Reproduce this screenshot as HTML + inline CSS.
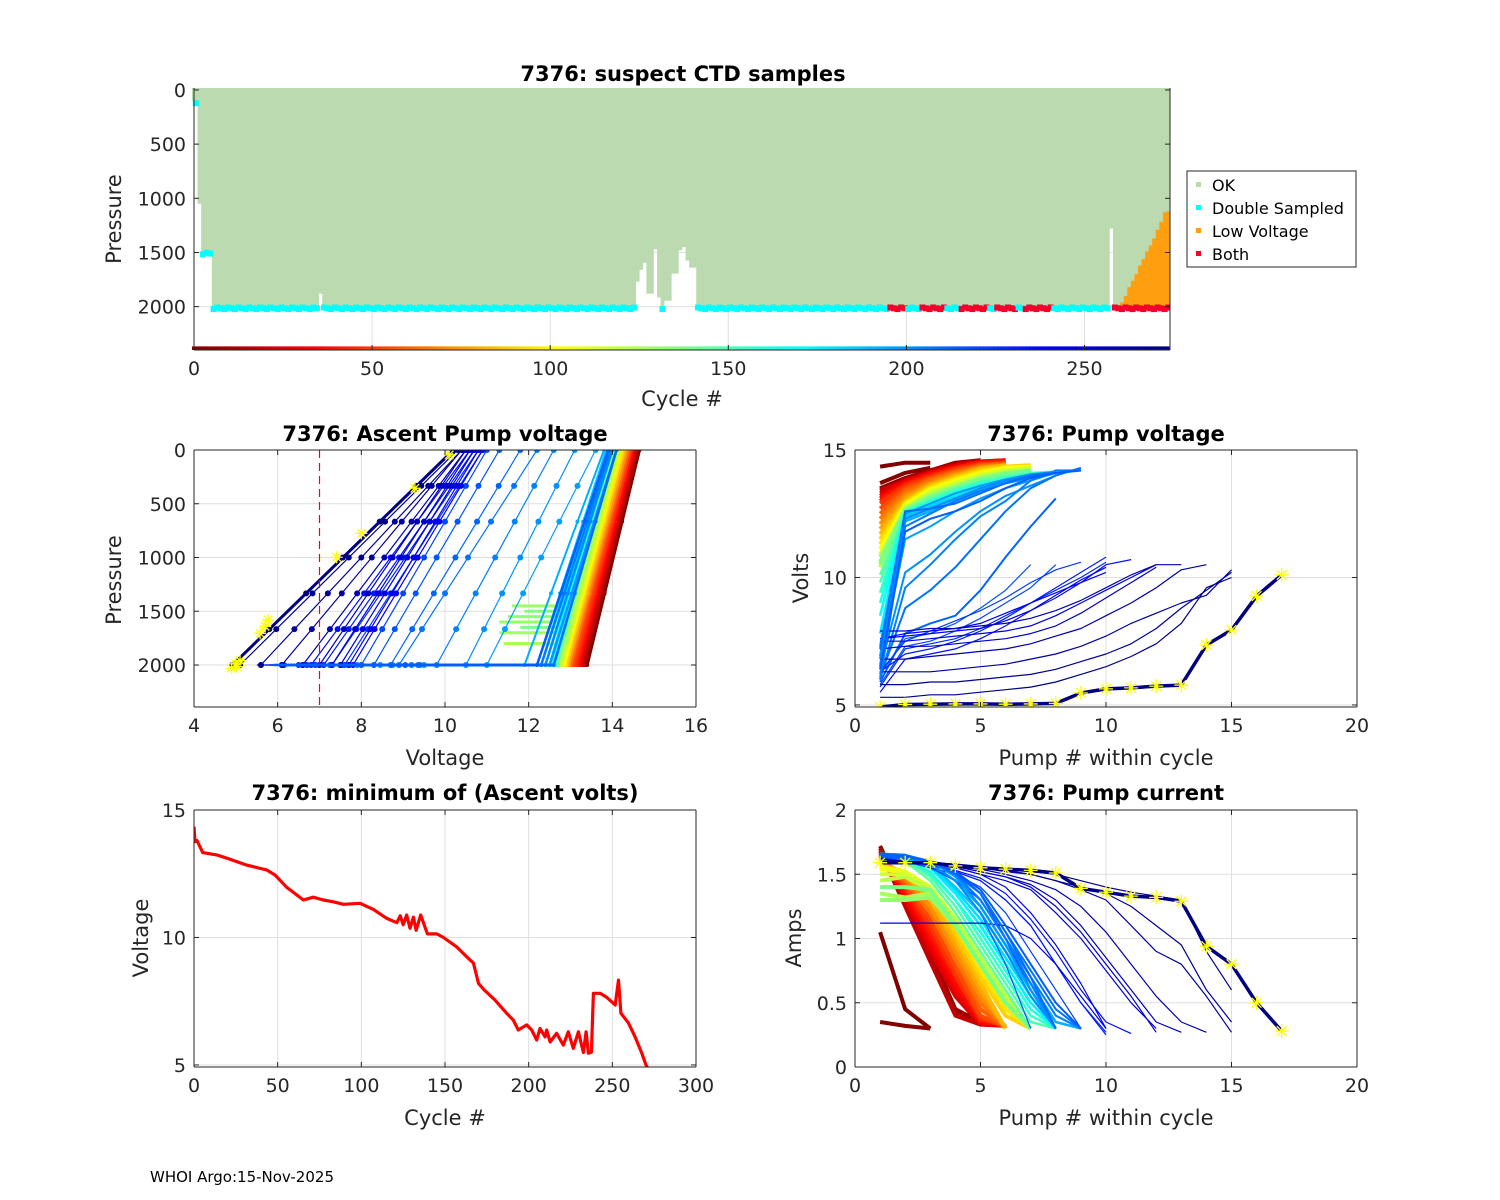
<!DOCTYPE html>
<html><head><meta charset="utf-8">
<style>
html,body{margin:0;padding:0;background:#fff;}
svg{display:block;font-family:"DejaVu Sans","Liberation Sans",sans-serif;}
.tk{font-size:19px;fill:#262626;}
.lab{font-size:21px;fill:#262626;}
.ttl{font-size:21px;font-weight:bold;fill:#000;}
</style></head>
<body>
<svg id="fig" xmlns="http://www.w3.org/2000/svg" width="1500" height="1200" viewBox="0 0 1500 1200">
<rect x="0" y="0" width="1500" height="1200" fill="#fff"/>
<defs>
<clipPath id="c1"><rect x="192" y="88" width="978" height="262"/></clipPath>
<clipPath id="c2"><rect x="194" y="450" width="502" height="257"/></clipPath>
<clipPath id="c3"><rect x="855" y="450" width="502" height="257"/></clipPath>
<clipPath id="c4"><rect x="194" y="810" width="502" height="257"/></clipPath>
<clipPath id="c5"><rect x="855" y="810" width="502" height="257"/></clipPath>
</defs>
<text class="ttl" x="683" y="81" text-anchor="middle">7376: suspect CTD samples</text>
<text class="ttl" x="445" y="441" text-anchor="middle">7376: Ascent Pump voltage</text>
<text class="ttl" x="1106" y="441" text-anchor="middle">7376: Pump voltage</text>
<text class="ttl" x="445" y="800" text-anchor="middle">7376: minimum of (Ascent volts)</text>
<text class="ttl" x="1106" y="800" text-anchor="middle">7376: Pump current</text>
<text class="lab" x="682" y="406" text-anchor="middle">Cycle #</text>
<text class="lab" transform="translate(121,219) rotate(-90)" text-anchor="middle">Pressure</text>
<text class="lab" x="445" y="765" text-anchor="middle">Voltage</text>
<text class="lab" transform="translate(121,580) rotate(-90)" text-anchor="middle">Pressure</text>
<text class="lab" x="1106" y="765" text-anchor="middle">Pump # within cycle</text>
<text class="lab" transform="translate(808,578) rotate(-90)" text-anchor="middle">Volts</text>
<text class="lab" x="445" y="1125" text-anchor="middle">Cycle #</text>
<text class="lab" transform="translate(148,938) rotate(-90)" text-anchor="middle">Voltage</text>
<text class="lab" x="1106" y="1125" text-anchor="middle">Pump # within cycle</text>
<text class="lab" transform="translate(801,938) rotate(-90)" text-anchor="middle">Amps</text>
<text x="150" y="1182" style="font-size:15px;fill:#000">WHOI Argo:15-Nov-2025</text>
<g id="legend">
<rect x="1187" y="171" width="169" height="96" fill="#fff" stroke="#262626" stroke-width="1"/>
<rect x="1196" y="182" width="5" height="5" fill="#bcdab0"/>
<text x="1212" y="191" style="font-size:16px;fill:#000">OK</text>
<rect x="1196" y="205" width="5" height="5" fill="#00ffff"/>
<text x="1212" y="214" style="font-size:16px;fill:#000">Double Sampled</text>
<rect x="1196" y="228" width="5" height="5" fill="#ff9f10"/>
<text x="1212" y="237" style="font-size:16px;fill:#000">Low Voltage</text>
<rect x="1196" y="251" width="5" height="5" fill="#f5002a"/>
<text x="1212" y="260" style="font-size:16px;fill:#000">Both</text>
</g>
</svg>
<script>
// ---------- data: top panel ----------
const okStart = [0,1,2,5,35,36,124,125,126,127,128,129,130,131,132,133,134,135,136,137,138,139,140,141,257,258];
const okEnd   = [0,1,4,34,35,123,124,125,126,127,128,129,130,131,132,133,134,135,136,137,138,139,140,256,257,273];
const okDepth = [100,1050,1500,2000,1880,2000,1770,1660,1595,1880,1880,1470,1915,2000,1945,1945,1695,1695,1480,1450,1575,1640,1640,2000,1280,2000];
const lowCycles = [259,260,261,262,263,264,265,266,267,268,269,270,271,272,273];
const lowTop    = [1990,1960,1900,1820,1760,1700,1620,1560,1490,1435,1370,1290,1215,1130,1120];
const flagStart = [0,2,5,36,131,141,195,200,204,211,215,223,225,231,233,241,258];
const flagEnd   = [0,4,34,123,131,194,199,203,210,214,222,224,230,232,240,256,273];
const flagType  = ['D','D','D','D','D','D','B','D','B','D','B','D','B','D','B','D','B'];
const flagPres  = [130,1510,2015,2015,2015,2015,2015,2015,2015,2015,2015,2015,2015,2015,2015,2015,2015];
const topXTicks = [0,50,100,150,200,250];
const presTicks = [0,500,1000,1500,2000];
const nCycles = 274;

// ---------- data: minimum ascent volts ----------
const minCycle = [0,0.6,1.8,5.2,13.5,21.5,31.5,43.4,48.4,55.4,61.4,65.4,71.3,77.3,83.3,89.3,99.2,107.2,115.2,121.2,123.2,125,127.1,129.1,131.1,132.7,135.5,139.5,145.1,149.1,157,163,167,170,173.4,179.8,183.8,186.8,190.8,193.8,198.8,201.8,204.8,206.8,209.8,210.8,212.8,216.7,220.7,223.7,226.7,229.7,232.7,234.3,235.7,237.5,238.7,242.7,246.7,251.7,253.7,255.1,259.6,263.6,267.6,270.1,272];
const minVolt  = [14.35,13.76,13.8,13.33,13.24,13.07,12.84,12.65,12.45,11.97,11.67,11.47,11.58,11.47,11.4,11.3,11.34,11.1,10.75,10.58,10.85,10.5,10.88,10.36,10.8,10.28,10.88,10.14,10.14,10.0,9.63,9.24,9.0,8.2,7.94,7.55,7.25,7.03,6.76,6.37,6.57,6.37,5.98,6.43,6.1,6.37,5.9,6.24,5.78,6.3,5.65,6.3,5.49,6.3,5.46,5.5,7.81,7.81,7.65,7.35,8.33,7.03,6.65,6.1,5.46,5.0,4.8];
const blXTicks = [0,50,100,150,200,250,300];
const voltTicks = [5,10,15];

// ---------- data: ascent profiles (pressure vs voltage) ----------
const profCycle  = [0,6,12,18,24,30,36,42,48,54,60,66,72,78,84,90,96,102,108,114,120,125,127,129,131,133,136,139,144,150,156,162,168,174,180,186,192,196,200,204,208,212,216,220,224,228,232,236,240,244,248,252,256,260,264,267,270,198,202,206,210,214,273];
const profPStart = [2000,2000,2000,2000,2000,2000,2000,2000,2000,2000,2000,2000,2000,2000,2000,2000,2000,2000,2000,2000,2000,1800,1700,1450,1600,1550,1500,1650,2000,2000,2000,2000,2000,2000,2000,2000,2000,2000,2000,2000,2000,2000,2000,2000,2000,2000,2000,2000,2000,2000,2000,2000,2000,2000,2000,2000,2000,2000,2000,2000,2000,2000,2000];
const profVMin   = [13.3,13.3,13.25,13.2,13.2,13.1,13.1,13.0,12.9,12.6,12.5,11.9,11.6,11.5,11.4,11.3,11.3,11.2,11.1,10.8,10.6,11.4,11.3,11.6,11.3,11.5,11.9,11.8,10.1,10.0,9.6,9.2,8.9,7.9,7.5,7.0,6.5,6.5,6.4,6.0,6.2,5.9,6.2,5.8,6.2,5.7,6.3,5.5,7.6,7.7,7.5,7.3,7.0,6.6,6.1,5.6,5.1,6.5,6.3,6.1,6.2,5.9,4.92];
const profVBot   = [13.4,13.35,13.3,13.3,13.25,13.2,13.2,13.15,13.1,13.05,13.0,13.0,12.95,12.95,12.9,12.9,12.85,12.85,12.8,12.8,12.75,12.9,12.9,12.9,12.85,12.85,12.85,12.8,12.7,12.65,12.6,12.55,12.5,12.4,12.3,12.2,11.9,11.0,10.5,9.8,8.9,8.7,8.3,8.0,7.6,7.3,7.1,6.8,7.8,7.7,7.5,7.3,7.0,6.6,6.1,5.6,5.1,12.5,12.4,12.3,12.6,12.2,4.92];
const profVTop   = [14.65,14.6,14.6,14.55,14.55,14.5,14.5,14.45,14.45,14.4,14.4,14.35,14.35,14.3,14.3,14.25,14.25,14.2,14.2,14.15,14.15,14.1,14.1,14.1,14.1,14.05,14.05,14.05,14.0,14.0,13.95,13.95,13.9,13.9,13.85,13.85,13.8,13.6,13.1,12.6,12.2,11.8,11.3,11.0,10.9,10.8,10.7,10.6,10.9,10.8,10.7,10.6,10.5,10.5,10.4,10.4,10.3,14.1,14.0,13.95,14.1,13.9,10.2];
const lastStarV = [4.9,5.0,5.1,5.02,5.58,5.7,5.77,7.41,8.0,9.28,10.1];
const lastStarP = [2030,1990,1960,2015,1705,1640,1581,998,775,356,46];
const mlXTicks = [4,6,8,10,12,14,16];
const dashedVolt = 7;

// ---------- data: per-pump volts and amps ----------
const pumpCycles = [0,2,6,12,18,24,30,36,42,48,54,60,66,72,78,84,90,96,102,108,114,120,126,132,138,144,150,156,162,168,174,180,186,192,196,200,204,208,212,216,220,224,228,232,236,240,244,248,252,256,260,264,267,270,198,202,206,210,214,273];
const pumpVolts = [
[14.35,14.5,14.5],[13.7,14.1,14.3],
[13.5,13.9,14.2,14.5,14.6],[13.45,13.85,14.2,14.45,14.6],[13.4,13.8,14.15,14.4,14.6],
[13.3,13.8,14.1,14.4,14.55,14.6],[13.2,13.75,14.1,14.35,14.55,14.6],[13.1,13.7,14.05,14.3,14.5,14.6],
[13.0,13.65,14.0,14.3,14.5,14.55],[12.9,13.6,13.95,14.25,14.45,14.5],[12.7,13.5,13.9,14.2,14.4,14.5],
[12.5,13.4,13.85,14.15,14.4,14.45],[12.3,13.3,13.8,14.1,14.35,14.45],[12.1,13.2,13.7,14.05,14.3,14.4],
[11.9,13.1,13.65,14.0,14.3,14.4],[11.7,13.0,13.6,13.95,14.25,14.4],[11.5,12.95,13.55,13.9,14.2,14.35,14.4],
[11.3,12.9,13.5,13.85,14.15,14.3,14.35],[11.1,12.85,13.45,13.8,14.1,14.3,14.35],[10.9,12.8,13.4,13.75,14.05,14.25,14.3],
[10.6,12.75,13.35,13.7,14.0,14.2,14.3],[10.4,12.7,13.3,13.6,13.95,14.15,14.25],[10.8,12.7,13.2,13.6,13.9,14.1,14.2],
[10.5,12.65,13.2,13.55,13.9,14.1,14.2],[10.6,12.65,13.15,13.5,13.85,14.05,14.2],[10.1,12.6,13.1,13.5,13.8,14.0,14.15],
[9.8,12.6,13.05,13.45,13.75,13.95,14.1,14.15],[9.4,12.55,13.0,13.4,13.7,13.9,14.05,14.15],[9.0,12.55,12.95,13.35,13.65,13.85,14.0,14.1],
[8.5,12.5,12.9,13.3,13.6,13.8,14.0,14.1],[7.8,12.5,12.85,13.2,13.55,13.8,13.95,14.1],[7.3,12.45,12.8,13.15,13.5,13.75,13.95,14.1],
[6.9,12.4,12.75,13.1,13.45,13.7,13.9,14.1],[6.5,12.2,12.6,13.0,13.4,13.7,13.9,14.1,14.2],[6.6,11.5,12.0,12.6,13.1,13.5,13.8,14.1,14.2],
[6.4,10.2,10.9,11.8,12.6,13.2,13.6,14.0],[6.0,9.6,10.5,11.5,12.4,13.0,13.8,14.2,14.2],[6.1,8.8,9.5,10.4,11.5,12.6,13.5,14.0,14.3],
[5.9,7.8,8.2,8.5,9.5,10.8,12.0,13.1],[6.2,7.6,7.8,8.2,8.8,9.5,10.5],[5.8,7.3,7.5,7.9,8.4,9.0,9.6,10.5],
[6.3,7.5,7.9,8.3,8.7,9.2,9.8,10.3,10.6],[5.7,7.2,7.4,7.6,8.0,8.5,9.0,9.5,10.0,10.6],[6.3,7.0,7.2,7.5,7.9,8.4,9.0,9.6,10.2,10.8],
[5.5,6.8,7.0,7.2,7.6,8.1,8.7,9.2,9.8,10.5,10.7],[7.6,7.8,7.9,8.0,8.2,8.6,9.0,9.4,9.8,10.2],[7.6,7.7,7.8,7.9,8.0,8.3,8.7,9.3,9.9,10.4],
[7.5,7.5,7.6,7.7,7.8,7.9,8.1,8.5,9.0,9.5,10.0,10.5],[7.2,7.3,7.3,7.4,7.5,7.6,7.8,8.1,8.6,9.2,9.8,10.4],[7.9,7.9,8.0,8.0,8.1,8.2,8.4,8.7,9.1,9.6,10.1,10.5,10.5],
[6.8,6.8,6.9,7.0,7.1,7.2,7.4,7.7,8.0,8.5,9.0,9.6,10.3,10.5],[6.3,6.3,6.3,6.4,6.5,6.6,6.8,7.0,7.3,7.7,8.2,8.6,9.0,9.3,10.3],
[5.8,5.8,5.9,5.9,6.0,6.1,6.2,6.4,6.7,7.0,7.4,8.0,8.8,9.5,10.2],[5.3,5.3,5.4,5.4,5.5,5.6,5.7,5.9,6.2,6.5,6.9,7.4,8.2,9.6,10.0],
[6.2,12.5,12.9,13.3,13.6,13.85,14.05,14.15],[6.8,12.3,12.7,13.1,13.5,13.8,14.0,14.15],[6.0,12.0,12.5,13.0,13.4,13.7,13.95,14.1],
[7.2,12.6,12.7,12.9,13.3,13.7,14.0,14.1],[6.4,11.8,12.3,12.6,13.0,13.5,13.9,14.1,14.2],
[4.92,5.02,5.03,5.04,5.04,5.03,5.04,5.06,5.47,5.63,5.67,5.74,5.78,7.35,7.94,9.27,10.1]];
const pumpAmps = [
[1.05,0.45,0.3],[0.35,0.32,0.3],
[1.72,1.3,0.9,0.45,0.35],[1.7,1.3,0.85,0.42,0.34],[1.68,1.25,0.82,0.4,0.33],
[1.68,1.3,0.9,0.55,0.33,0.32],[1.66,1.32,0.95,0.6,0.34,0.32],[1.65,1.35,1.0,0.65,0.35,0.32],
[1.65,1.38,1.05,0.7,0.37,0.32],[1.64,1.4,1.1,0.72,0.38,0.32],[1.64,1.42,1.15,0.78,0.4,0.31],
[1.63,1.44,1.2,0.85,0.45,0.31],[1.63,1.46,1.2,0.85,0.5,0.31],[1.62,1.48,1.25,0.9,0.55,0.31],
[1.6,1.5,1.3,0.95,0.6,0.3],[1.58,1.5,1.3,1.0,0.65,0.3],[1.57,1.52,1.35,1.05,0.7,0.4,0.3],
[1.56,1.52,1.38,1.1,0.75,0.45,0.3],[1.55,1.52,1.4,1.1,0.8,0.5,0.3],[1.54,1.52,1.4,1.15,0.8,0.5,0.3],
[1.5,1.5,1.4,1.15,0.85,0.55,0.3],[1.45,1.48,1.38,1.15,0.85,0.55,0.3],[1.35,1.32,1.35,1.1,0.8,0.5,0.3],
[1.3,1.3,1.32,1.1,0.8,0.5,0.3],[1.4,1.4,1.38,1.1,0.8,0.5,0.3],[1.62,1.6,1.45,1.2,0.9,0.6,0.3],
[1.64,1.62,1.48,1.25,0.95,0.65,0.35,0.3],[1.65,1.62,1.5,1.3,1.0,0.7,0.4,0.3],[1.66,1.63,1.52,1.3,1.05,0.75,0.45,0.3],
[1.66,1.64,1.55,1.35,1.1,0.8,0.5,0.3],[1.66,1.64,1.55,1.35,1.1,0.8,0.5,0.3],[1.66,1.64,1.56,1.38,1.15,0.85,0.55,0.3],
[1.66,1.65,1.58,1.4,1.2,0.9,0.6,0.3],[1.66,1.65,1.58,1.45,1.25,0.95,0.65,0.35,0.3],[1.65,1.64,1.6,1.5,1.3,1.0,0.7,0.4,0.3],
[1.65,1.63,1.6,1.5,1.25,0.95,0.6,0.3],[1.65,1.63,1.6,1.5,1.3,1.0,0.7,0.4,0.3],[1.64,1.62,1.6,1.52,1.35,1.05,0.75,0.45,0.3],
[1.64,1.62,1.6,1.52,1.35,1.0,0.6,0.3],[1.64,1.6,1.55,1.45,1.2,0.8,0.3],[1.63,1.6,1.55,1.45,1.3,1.0,0.6,0.3],
[1.62,1.6,1.55,1.5,1.4,1.2,0.9,0.6,0.3],[1.62,1.6,1.57,1.52,1.45,1.3,1.1,0.8,0.5,0.27],[1.62,1.6,1.57,1.52,1.45,1.3,1.1,0.8,0.5,0.25],
[1.62,1.6,1.57,1.53,1.47,1.35,1.15,0.9,0.6,0.35,0.26],[1.62,1.6,1.58,1.55,1.5,1.4,1.2,0.95,0.65,0.3],[1.12,1.12,1.12,1.12,1.12,1.1,1.0,0.8,0.55,0.3],
[1.62,1.6,1.58,1.55,1.5,1.45,1.38,1.2,1.0,0.75,0.5,0.3],[1.62,1.6,1.58,1.56,1.52,1.48,1.4,1.25,1.05,0.8,0.55,0.27],[1.6,1.6,1.58,1.56,1.52,1.48,1.42,1.3,1.1,0.85,0.6,0.35,0.27],
[1.6,1.6,1.58,1.56,1.54,1.5,1.45,1.38,1.25,1.05,0.8,0.55,0.35,0.27],[1.6,1.6,1.58,1.57,1.55,1.52,1.5,1.45,1.38,1.3,1.1,0.9,0.8,0.55,0.27],
[1.6,1.6,1.59,1.57,1.55,1.53,1.5,1.45,1.4,1.35,1.25,1.1,0.95,0.6,0.35],[1.6,1.6,1.59,1.58,1.56,1.54,1.52,1.5,1.45,1.4,1.36,1.33,1.3,0.9,0.6],
[1.66,1.65,1.6,1.48,1.25,0.95,0.6,0.3],[1.66,1.64,1.58,1.45,1.2,0.9,0.55,0.3],[1.65,1.64,1.6,1.5,1.3,1.0,0.65,0.3],
[1.66,1.65,1.6,1.5,1.35,1.05,0.7,0.3],[1.65,1.64,1.6,1.52,1.38,1.1,0.8,0.5,0.3],
[1.59,1.59,1.59,1.565,1.55,1.54,1.53,1.51,1.39,1.36,1.33,1.32,1.29,0.94,0.80,0.50,0.28]];
const pumpXTicks = [0,5,10,15,20];
const ampTicks = [0,0.5,1,1.5,2];
const ampTickLabels = ['0','0.5','1','1.5','2'];

// ---------- helpers ----------
const NS = 'http://www.w3.org/2000/svg';
const svg = document.getElementById('fig');
const legendNode = document.getElementById('legend');
function mk(tag, attrs, parent) {
  const e = document.createElementNS(NS, tag);
  for (const k in attrs) e.setAttribute(k, attrs[k]);
  (parent || svg).insertBefore(e, parent ? null : legendNode);
  return e;
}
function lin(d0, d1, r0, r1) { return v => r0 + (v - d0) * (r1 - r0) / (d1 - d0); }
function jet(t) {
  const c = v => Math.round(255 * Math.max(0, Math.min(1, v)));
  return 'rgb(' + c(1.5 - Math.abs(4*t - 3)) + ',' + c(1.5 - Math.abs(4*t - 2)) + ',' + c(1.5 - Math.abs(4*t - 1)) + ')';
}
function cycColor(c) { return jet(1 - c / (nCycles - 1)); }
function star(g, x, y, s) {
  const d = 'M' + (x-s) + ' ' + y + 'H' + (x+s) + 'M' + x + ' ' + (y-s) + 'V' + (y+s) +
    'M' + (x-s*0.7) + ' ' + (y-s*0.7) + 'L' + (x+s*0.7) + ' ' + (y+s*0.7) +
    'M' + (x-s*0.7) + ' ' + (y+s*0.7) + 'L' + (x+s*0.7) + ' ' + (y-s*0.7);
  const p = mk('path', {d: d, stroke: '#ffff00', 'stroke-width': 1.3, fill: 'none'}, g);
  
  
}
function axes(name, x0, x1, y0, y1, xs, ys, xt, yt, xlab, ylab, grid) {
  const g = mk('g', {});
  
  
  if (grid) {
    xt.forEach(v => { const X = xs(v); if (X > x0 + 1 && X < x1 - 1) mk('line', {x1: X, x2: X, y1: y0, y2: y1, stroke: '#dfdfdf', 'stroke-width': 1}, g); });
    yt.forEach(v => { const Y = ys(v); if (Y > y0 + 1 && Y < y1 - 1) mk('line', {x1: x0, x2: x1, y1: Y, y2: Y, stroke: '#dfdfdf', 'stroke-width': 1}, g); });
  }
  return g;
}
function frame(name, x0, x1, y0, y1, xs, ys, xt, yt, xlab, ylab, noTop) {
  const g = mk('g', {});
  
  
  const st = {stroke: '#262626', 'stroke-width': 1, fill: 'none'};
  mk('line', Object.assign({x1: x0, x2: x0, y1: y0, y2: y1}, st), g);
  mk('line', Object.assign({x1: x1, x2: x1, y1: y0, y2: y1}, st), g);
  mk('line', Object.assign({x1: x0, x2: x1, y1: y1, y2: y1}, st), g);
  if (!noTop) mk('line', Object.assign({x1: x0, x2: x1, y1: y0, y2: y0}, st), g);
  xt.forEach((v, i) => {
    const X = xs(v);
    mk('line', Object.assign({x1: X, x2: X, y1: y1, y2: y1 - 5}, st), g);
    if (!noTop) mk('line', Object.assign({x1: X, x2: X, y1: y0, y2: y0 + 5}, st), g);
    const t = mk('text', {x: X, y: y1 + 25, 'text-anchor': 'middle', class: 'tk'}, g);
    t.textContent = xlab ? xlab[i] : String(v);
    
    
  });
  yt.forEach((v, i) => {
    const Y = ys(v);
    mk('line', Object.assign({x1: x0, x2: x0 + 5, y1: Y, y2: Y}, st), g);
    mk('line', Object.assign({x1: x1, x2: x1 - 5, y1: Y, y2: Y}, st), g);
    const t = mk('text', {x: x0 - 8, y: Y + 7, 'text-anchor': 'end', class: 'tk'}, g);
    t.textContent = ylab ? ylab[i] : String(v);
    
    
  });
}

// ---------- panel 1: suspect CTD samples ----------
(function () {
  const xs = lin(0, 274, 194, 1170), ys = lin(-18, 2400, 88, 350);
  axes('suspect', 194, 1170, 88, 350, xs, ys, topXTicks, presTicks, null, null, true);
  const g = mk('g', {'clip-path': 'url(#c1)'});
  
  
  for (let i = 0; i < okStart.length; i++) {
    const xa = okStart[i] === 0 ? 192 : xs(okStart[i]);
    const r = mk('rect', {x: xa, y: 88, width: xs(okEnd[i] + 1) - xa + 0.3, height: ys(okDepth[i]) - 88, fill: '#bcdab0'}, g);
    
    
  }
  for (let i = 0; i < lowCycles.length; i++) {
    const r = mk('rect', {x: xs(lowCycles[i]), y: ys(lowTop[i]), width: xs(lowCycles[i] + 1) - xs(lowCycles[i]) + 0.3, height: ys(2000) - ys(lowTop[i]), fill: '#ff9f10'}, g);
    
    
  }
  for (let i = 0; i < flagStart.length; i++) {
    for (let c = flagStart[i]; c <= flagEnd[i]; c++) {
      const jit = (c % 3) - 1;
      const r = mk('rect', {x: xs(c + 0.5) - 3, y: ys(flagPres[i]) - 3 + jit * 0.8, width: 6, height: 6, fill: flagType[i] === 'D' ? '#00ffff' : '#f5002a'}, g);
      
      
    }
  }
  for (let c = 0; c < nCycles; c++) {
    const r = mk('rect', {x: xs(c) - 2, y: ys(2390) - 2.5, width: 5, height: 5, fill: cycColor(c)}, g);
    
    
  }
  frame('suspect', 194, 1170, 88, 350, xs, ys, topXTicks, presTicks, null, null, true);
})();

// ---------- panel 2: ascent pump voltage ----------
(function () {
  const xs = lin(4, 16, 194, 696), ys = lin(0, 2400, 450, 708);
  axes('ascent', 194, 696, 450, 707, xs, ys, mlXTicks, presTicks, null, null, true);
  const g = mk('g', {'clip-path': 'url(#c2)'});
  
  
  for (let i = 0; i < profCycle.length; i++) {
    const c = profCycle[i], col = cycColor(c), last = i === profCycle.length - 1;
    const pts = [[profVMin[i], profPStart[i]], [profVBot[i], profPStart[i]], [profVTop[i], 0]];
    const d = pts.map((p, k) => (k ? 'L' : 'M') + xs(p[0]).toFixed(1) + ' ' + ys(p[1]).toFixed(1)).join('');
    const w = last ? 3 : (c < 140 ? 3 : (c < 196 ? 2 : (profVBot[i] > 12 ? 2.5 : 1.2)));
    const pl = mk('path', {d: d, stroke: col, 'stroke-width': w, fill: 'none'}, g);
    
    
    const nd = c >= 196 && profVBot[i] < 12 ? 6 : 3;
    for (let k = 0; k <= nd; k++) {
      const t = k / nd;
      const v = profVBot[i] + (profVTop[i] - profVBot[i]) * t, p = profPStart[i] * (1 - t);
      const dot = mk('circle', {cx: xs(v), cy: ys(p), r: nd === 6 ? 3 : 2, fill: col}, g);
      
      
    }
    if (c >= 196) {
      const dot = mk('circle', {cx: xs((profVMin[i] + profVBot[i]) / 2), cy: ys(2000), r: 3, fill: col}, g);
      
      
    }
  }
  lastStarV.forEach((v, k) => star(g, xs(v), ys(lastStarP[k]), 6));
  const dl = mk('line', {x1: xs(dashedVolt), x2: xs(dashedVolt), y1: 450, y2: 707, stroke: '#ff0000', 'stroke-width': 1.2, 'stroke-dasharray': '8,5'}, g);
  
  
  frame('ascent', 194, 696, 450, 707, xs, ys, mlXTicks, presTicks);
})();

// ---------- panel 3 & 5: pump volts / amps ----------
function pumpPanel(name, clip, y0, y1, ys, series, yt, ylab) {
  const xs = lin(0, 20, 855, 1357);
  axes(name, 855, 1357, y0, y1, xs, ys, pumpXTicks, yt, null, ylab, true);
  const g = mk('g', {'clip-path': clip});
  
  
  for (let i = 0; i < pumpCycles.length; i++) {
    const c = pumpCycles[i], last = i === pumpCycles.length - 1;
    const d = series[i].map((v, k) => (k ? 'L' : 'M') + xs(k + 1).toFixed(1) + ' ' + ys(v).toFixed(1)).join('');
    const w = last ? 3.5 : (c < 140 ? 4 : (c < 196 ? 2.5 : (c < 216 ? 2 : 1.2)));
    const pl = mk('path', {d: d, stroke: cycColor(c), 'stroke-width': w, fill: 'none', 'stroke-linejoin': 'round'}, g);
    
    
    if (last) series[i].forEach((v, k) => star(g, xs(k + 1), ys(v), 7));
  }
  frame(name, 855, 1357, y0, y1, xs, ys, pumpXTicks, yt, null, ylab);
}
pumpPanel('pump-voltage', 'url(#c3)', 450, 707, lin(4.92, 15, 707, 450), pumpVolts, voltTicks, null);
pumpPanel('pump-current', 'url(#c5)', 810, 1067, lin(0, 2, 1067, 810), pumpAmps, ampTicks, ampTickLabels);

// ---------- panel 4: minimum ascent volts ----------
(function () {
  const xs = lin(0, 300, 194, 696), ys = lin(4.92, 15, 1067, 810);
  axes('min-voltage', 194, 696, 810, 1067, xs, ys, blXTicks, voltTicks, null, null, true);
  const g = mk('g', {'clip-path': 'url(#c4)'});
  const d = minCycle.map((c, k) => (k ? 'L' : 'M') + xs(c).toFixed(1) + ' ' + ys(minVolt[k]).toFixed(1)).join('');
  const pl = mk('path', {d: d, stroke: '#ff0000', 'stroke-width': 3.2, fill: 'none', 'stroke-linejoin': 'round'}, g);
  
  
  frame('min-voltage', 194, 696, 810, 1067, xs, ys, blXTicks, voltTicks);
})();
</script>
</body></html>
